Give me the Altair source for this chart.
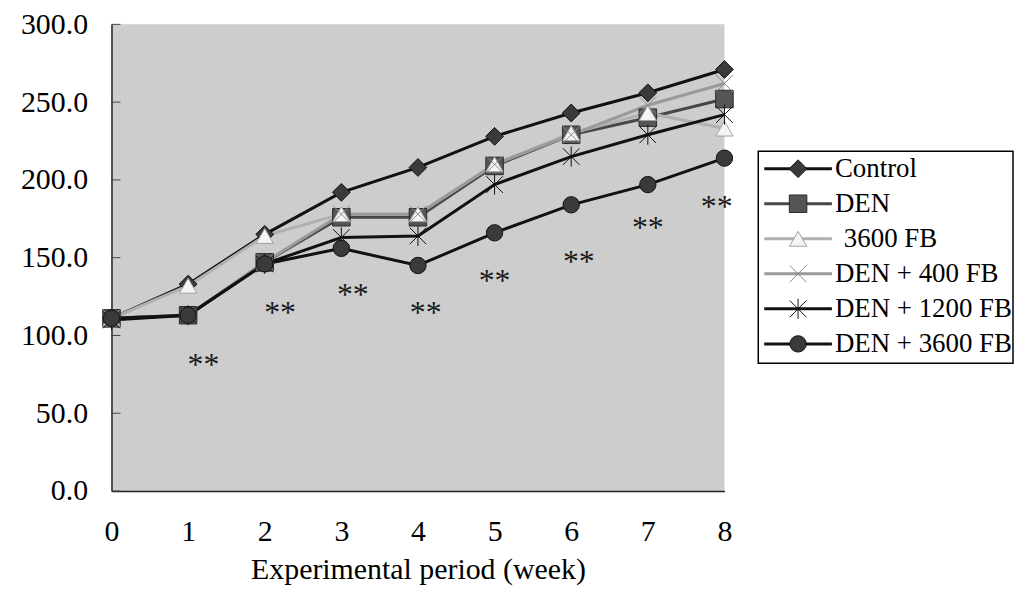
import altair as alt
import pandas as pd

# ---------------- data ----------------
weeks = [0, 1, 2, 3, 4, 5, 6, 7, 8]
series_names = ["Control", "DEN", "3600 FB", "DEN + 400 FB", "DEN + 1200 FB", "DEN + 3600 FB"]
control = [111, 133, 165, 192, 208, 228, 243, 256, 271]
den = [111, 113, 147, 176, 176, 209, 229, 240, 252]
fb_3600 = [111, 132, 164, 178, 178, 210, 230, 243, 233]
den_400 = [111, 113, 147, 178, 178, 210, 229, 248, 262]
den_1200 = [110, 113, 146, 163, 164, 197, 215, 229, 242]
den_3600 = [111, 113, 146, 156, 145, 166, 184, 197, 214]

star_weeks = [1.2, 2.2, 3.15, 4.1, 5.0, 6.1, 7.0, 7.9]
star_values = [87, 120, 132, 120, 141, 153, 175, 188]
y_ticks = [0, 50, 100, 150, 200, 250, 300]

# ---------------- styles ----------------
X_PATH = "M-1,-1L1,1M-1,1L1,-1"
AST_PATH = "M-1,-1L1,1M-1,1L1,-1M0,-1.2L0,1.2"
shapes = ["diamond", "square", "triangle-up", X_PATH, AST_PATH, "circle"]
fills = ["#3a3a3a", "#555555", "#f4f4f4", "transparent", "transparent", "#3a3a3a"]
strokes = ["#111111", "#2a2a2a", "#a0a0a0", "#8a8a8a", "#111111", "#111111"]
line_colors = ["#111111", "#474747", "#b0b0b0", "#9a9a9a", "#111111", "#111111"]
line_widths = [3, 3, 3, 3, 3, 3]
marker_sizes = [320, 270, 280, 200, 240, 250]
marker_strokes = [1, 1, 1.2, 2.5, 3, 1]
label_indent = [0, 0, 9, 0, 0, 0]

FONT = "Liberation Serif"

rows = []
for name, vals in zip(series_names, [control, den, fb_3600, den_400, den_1200, den_3600]):
    for w, v in zip(weeks, vals):
        rows.append({"series": name, "week": w, "value": v})
df = pd.DataFrame(rows)

stars_df = pd.DataFrame({"week": star_weeks, "value": star_values})
ticks_df = pd.DataFrame({"value": y_ticks})

sdom = series_names
color_s = alt.Scale(domain=sdom, range=line_colors)
sw_s = alt.Scale(domain=sdom, range=line_widths)
shape_s = alt.Scale(domain=sdom, range=shapes)
fill_s = alt.Scale(domain=sdom, range=fills)
stroke_s = alt.Scale(domain=sdom, range=strokes)
size_s = alt.Scale(domain=sdom, range=marker_sizes)
msw_s = alt.Scale(domain=sdom, range=marker_strokes)

x_enc = alt.X(
    "week:Q",
    scale=alt.Scale(domain=[0, 8], nice=False, zero=False),
    axis=alt.Axis(
        values=weeks, format="d", title="Experimental period (week)",
        ticks=False, grid=False, labelFontSize=30, titleFontSize=30,
        labelFont=FONT, titleFont=FONT, labelColor="black", titleColor="black",
        titleFontWeight="normal", labelPadding=26, titlePadding=8,
        domainColor="#222222", domainWidth=1.5, labelFlush=False,
    ),
)
y_enc = alt.Y(
    "value:Q",
    scale=alt.Scale(domain=[0, 300], nice=False),
    axis=alt.Axis(
        values=y_ticks, format=".1f", title=None, ticks=False, grid=False,
        labelFontSize=30, labelFont=FONT, labelColor="black", labelPadding=24,
        domainColor="#222222", domainWidth=1.5, minExtent=104, maxExtent=104,
        labelFlush=False,
    ),
)

base = alt.Chart(df)
lines = base.mark_line().encode(
    x=x_enc, y=y_enc,
    detail="series:N",
    color=alt.Color("series:N", scale=color_s, legend=None),
    strokeWidth=alt.StrokeWidth("series:N", scale=sw_s, legend=None),
)
points = base.mark_point(opacity=1, filled=False).encode(
    x="week:Q", y="value:Q",
    shape=alt.Shape("series:N", scale=shape_s, legend=None),
    fill=alt.Fill("series:N", scale=fill_s, legend=None),
    stroke=alt.Stroke("series:N", scale=stroke_s, legend=None),
    size=alt.Size("series:N", scale=size_s, legend=None),
    strokeWidth=alt.StrokeWidth("series:N", scale=msw_s, legend=None),
)
tick_marks = alt.Chart(ticks_df).mark_rule(color="#444444", strokeWidth=1).encode(
    y="value:Q", x=alt.value(0), x2=alt.value(9)
)
stars = alt.Chart(stars_df).mark_text(
    text="**", font=FONT, fontSize=32, color="#1a1a1a", baseline="middle", dy=9
).encode(x="week:Q", y="value:Q")

main = alt.layer(tick_marks, lines, points, stars).resolve_scale(
    strokeWidth="independent"
).properties(
    width=616, height=469,
    view=alt.ViewBackground(fill="#cdcdcd", stroke=None),
)

# ---------------- legend panel ----------------
leg_df = pd.DataFrame({
    "series": series_names,
    "row": list(range(len(series_names))),
    "indent": label_indent,
})
box_df = pd.DataFrame({"top": [-0.5], "bottom": [5.55]})
ly = alt.Scale(domain=[9.2, -4.12], nice=False, zero=False)
lx = alt.Scale(domain=[0, 256], range=[0, 256], nice=False, zero=False)

box = alt.Chart(box_df).mark_rect(fill="white", stroke="black", strokeWidth=1.5).encode(
    x=alt.value(0), x2=alt.value(256),
    y=alt.Y("top:Q", scale=ly, axis=None), y2="bottom:Q",
)
leg_lines = alt.Chart(leg_df).mark_rule().encode(
    x=alt.value(6), x2=alt.value(74),
    y=alt.Y("row:Q", scale=ly, axis=None),
    color=alt.Color("series:N", scale=color_s, legend=None),
    strokeWidth=alt.StrokeWidth("series:N", scale=sw_s, legend=None),
)
leg_points = alt.Chart(leg_df).mark_point(opacity=1, filled=False).encode(
    x=alt.value(40),
    y=alt.Y("row:Q", scale=ly, axis=None),
    shape=alt.Shape("series:N", scale=shape_s, legend=None),
    fill=alt.Fill("series:N", scale=fill_s, legend=None),
    stroke=alt.Stroke("series:N", scale=stroke_s, legend=None),
    size=alt.Size("series:N", scale=size_s, legend=None),
    strokeWidth=alt.StrokeWidth("series:N", scale=msw_s, legend=None),
)
leg_text = alt.Chart(leg_df).transform_calculate(
    tx="77 + datum.indent"
).mark_text(
    align="left", baseline="middle", font=FONT, fontSize=27, color="black"
).encode(
    x=alt.X("tx:Q", scale=lx, axis=None),
    y=alt.Y("row:Q", scale=ly, axis=None),
    text="series:N",
)
legend_panel = alt.layer(box, leg_lines, leg_points, leg_text).resolve_scale(
    strokeWidth="independent"
).properties(
    width=256, height=469,
    view=alt.ViewBackground(stroke=None),
)

chart = alt.hconcat(main, legend_panel, spacing=34, bounds="flush").properties(
    padding=0, background="white"
).configure_view(stroke=None)

chart.save("out.html", embed_options={"renderer": "svg", "actions": False})
